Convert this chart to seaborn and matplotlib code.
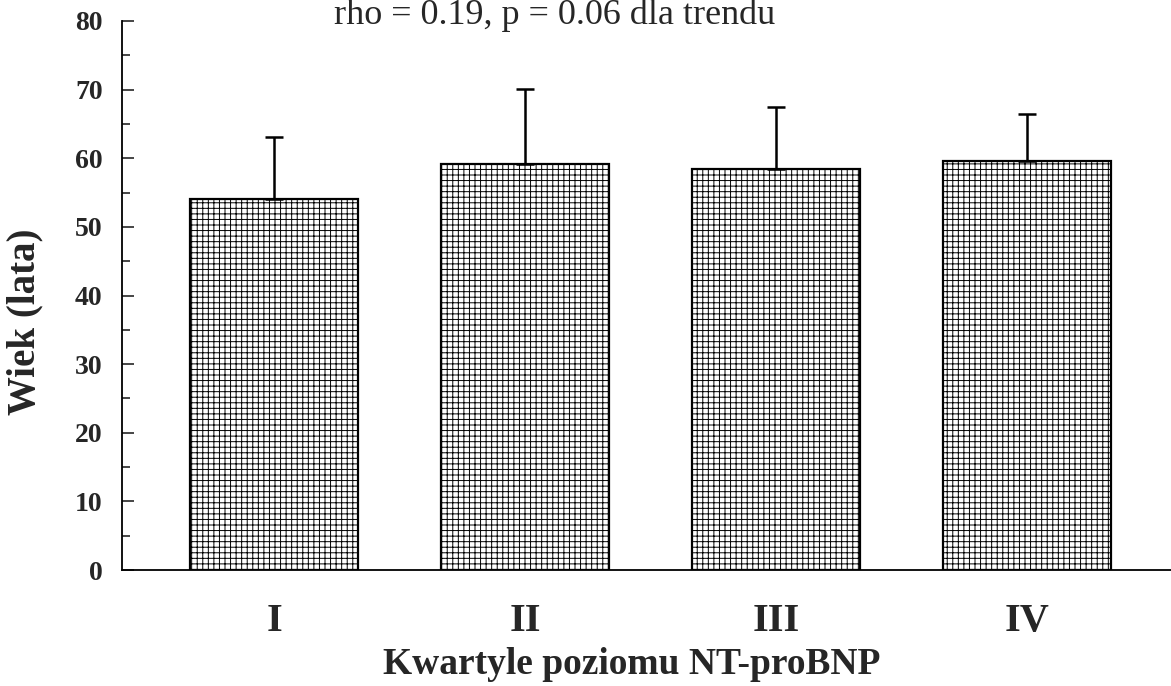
import matplotlib
matplotlib.use("Agg")
import matplotlib.pyplot as plt
import seaborn as sns
import pandas as pd
import numpy as np
from matplotlib.ticker import MultipleLocator

# Data
quartiles = ["I", "II", "III", "IV"]
mean_age = [54.0, 59.2, 58.4, 59.6]
sd_age = [9.1, 10.9, 9.0, 6.9]

title_text = "rho = 0.19, p = 0.06 dla trendu"
x_label = "Kwartyle poziomu NT-proBNP"
y_label = "Wiek (lata)"
y_ticks = [0, 10, 20, 30, 40, 50, 60, 70, 80]

sns.set_theme(style="white")
plt.rcParams["font.family"] = ["Liberation Serif", "DejaVu Serif"]
plt.rcParams["hatch.linewidth"] = 0.7
plt.rcParams["hatch.color"] = "#222222"

df = pd.DataFrame({"q": quartiles, "age": mean_age})

fig = plt.figure(figsize=(11.71, 6.86), dpi=100)
ax = fig.add_axes([122 / 1171, 1 - 570 / 686, 1 - 122 / 1171, (570 - 21) / 686])

sns.barplot(data=df, x="q", y="age", order=quartiles, color="white",
            edgecolor="black", linewidth=1.6, width=0.67, hatch="+++",
            errorbar=None, ax=ax)

ax.errorbar(np.arange(len(quartiles)), mean_age,
            yerr=[np.zeros(len(sd_age)), sd_age], fmt="none",
            ecolor="black", elinewidth=1.8, capsize=6.5, capthick=1.8,
            zorder=1)

ax.set_ylim(0, 80)
ax.set_xlim(-0.606, 3.574)
ax.set_yticks(y_ticks)
ax.yaxis.set_minor_locator(MultipleLocator(5))
ax.tick_params(axis="y", which="major", direction="in", length=8.5, width=1.2,
               pad=14, left=True, labelsize=20)
ax.tick_params(axis="y", which="minor", direction="in", length=5.5, width=1.2,
               left=True)
ax.tick_params(axis="x", length=0, pad=24, labelsize=29)
for lab in ax.get_yticklabels() + ax.get_xticklabels():
    lab.set_fontweight("bold")

for s in ["top", "right"]:
    ax.spines[s].set_visible(False)
for s in ["left", "bottom"]:
    ax.spines[s].set_linewidth(1.3)
    ax.spines[s].set_color("black")

ax.set_xlabel("")
ax.set_ylabel("")
fig.text(0.5 * (378 + 885) / 1171, 1 - 664 / 686, x_label, ha="center",
         va="center", fontsize=27, fontweight="bold")
fig.text(25 / 1171, 1 - 322 / 686, y_label, ha="center", va="center",
         rotation=90, fontsize=28, fontweight="bold")
fig.text(555 / 1171, 1 - 24 / 686, title_text, ha="center", va="baseline",
         fontsize=26)

fig.savefig("out.png", dpi=100)
